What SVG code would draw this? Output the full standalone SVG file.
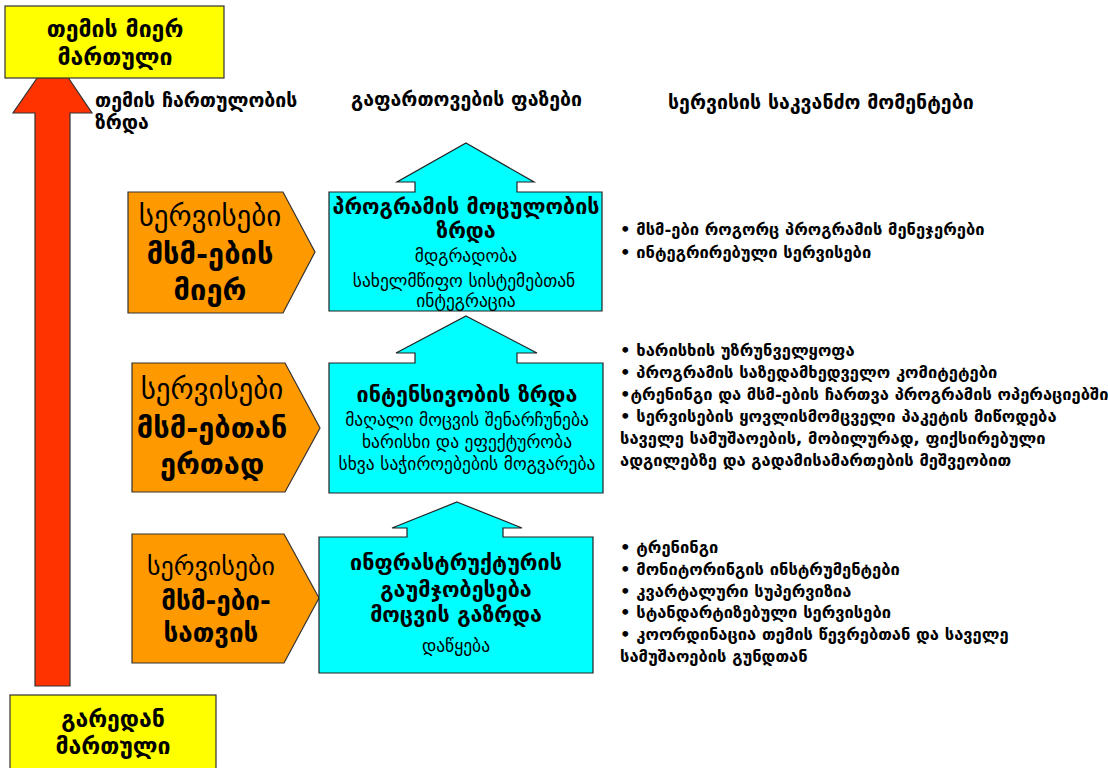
<svg xmlns="http://www.w3.org/2000/svg" width="1108" height="768" viewBox="0 0 1108 768">
  <style>
    text { font-family: "DejaVu Sans", sans-serif; fill: #000; }
    .yellow { fill: #FFFF00; stroke: #333; stroke-width: 1.2; }
    .orange { fill: #FF9900; stroke: #333; stroke-width: 1.2; }
    .cyan { fill: #00FFFF; stroke: #222; stroke-width: 1.2; }
    .red { fill: #FF3300; stroke: #333; stroke-width: 1.2; }
    .hdr { font-size: 19.5px; font-weight: bold; }
    .big { font-size: 29px; text-anchor: middle; }
    .bigb { font-size: 29px; font-weight: bold; text-anchor: middle; }
    .mid { font-size: 26px; text-anchor: middle; }
    .midb { font-size: 26px; font-weight: bold; text-anchor: middle; }
    .ttl { font-size: 21.5px; font-weight: bold; text-anchor: middle; }
    .sub { font-size: 17.5px; text-anchor: middle; }
    .bul { font-size: 16.5px; font-weight: bold; }
    .ybox { font-size: 23px; font-weight: bold; text-anchor: middle; }
  </style>

  <!-- vertical axis arrow -->
  <g id="axis-arrow">
    <polygon class="red" points="53,55 92,113 70,113 70,686 35,686 35,113 13,113"/>
  </g>

  <!-- top and bottom yellow boxes -->
  <g id="top-box">
    <rect class="yellow" x="5" y="6" width="219" height="72"/>
    <text class="ybox" x="115" y="37">თემის მიერ</text>
    <text class="ybox" x="115" y="65">მართული</text>
  </g>
  <g id="bottom-box">
    <rect class="yellow" x="10" y="695" width="206" height="78"/>
    <text class="ybox" x="113" y="727">გარედან</text>
    <text class="ybox" x="113" y="754">მართული</text>
  </g>

  <!-- column headers -->
  <g id="headers">
    <text class="hdr" x="95" y="107">თემის ჩართულობის</text>
    <text class="hdr" x="95" y="129">ზრდა</text>
    <text class="hdr" x="351" y="106">გაფართოვების ფაზები</text>
    <text class="hdr" x="668" y="109">სერვისის საკვანძო მომენტები</text>
  </g>

  <!-- orange service-level markers -->
  <g id="level-3">
    <polygon class="orange" points="128,192 283,192 315,252 283,313 128,313"/>
    <text class="big" x="210" y="226">სერვისები</text>
    <text class="bigb" x="210" y="264">მსმ-ების</text>
    <text class="bigb" x="210" y="300">მიერ</text>
  </g>
  <g id="level-2">
    <polygon class="orange" points="132,363 285,363 320,428 285,492 132,492"/>
    <text class="big" x="212" y="399">სერვისები</text>
    <text class="bigb" x="212" y="438">მსმ-ებთან</text>
    <text class="bigb" x="212" y="474">ერთად</text>
  </g>
  <g id="level-1">
    <polygon class="orange" points="132,534 284,534 319,598 284,663 132,663"/>
    <text class="mid" x="211" y="575">სერვისები</text>
    <text class="midb" x="216" y="610">მსმ-ები-</text>
    <text class="midb" x="211" y="642">სათვის</text>
  </g>

  <!-- cyan expansion phases -->
  <g id="phase-3">
    <polygon class="cyan" points="466,143 534,182 517,182 517,192 602,192 602,311 329,311 329,192 415,192 415,182 397,182"/>
    <text class="ttl" x="466" y="214">პროგრამის მოცულობის</text>
    <text class="ttl" x="466" y="238">ზრდა</text>
    <text class="sub" x="466" y="262">მდგრადობა</text>
    <text class="sub" x="464" y="287">სახელმწიფო სისტემებთან</text>
    <text class="sub" x="466" y="307">ინტეგრაცია</text>
  </g>
  <g id="phase-2">
    <polygon class="cyan" points="466,316 537,353 517,353 517,363 603,363 603,493 329,493 329,363 415,363 415,353 396,353"/>
    <text class="ttl" x="467" y="402">ინტენსივობის ზრდა</text>
    <text class="sub" x="467" y="426">მაღალი მოცვის შენარჩუნება</text>
    <text class="sub" x="467" y="448">ხარისხი და ეფექტურობა</text>
    <text class="sub" x="467" y="470">სხვა საჭიროებების მოგვარება</text>
  </g>
  <g id="phase-1">
    <polygon class="cyan" points="457,502 522,528 503,528 503,537 593,537 593,673 319,673 319,537 407,537 407,528 392,528"/>
    <text class="ttl" x="456" y="570">ინფრასტრუქტურის</text>
    <text class="ttl" x="456" y="597">გაუმჯობესება</text>
    <text class="ttl" x="456" y="622">მოცვის გაზრდა</text>
    <text class="sub" x="456" y="652">დაწყება</text>
  </g>

  <!-- key service points -->
  <g id="points-3">
    <text class="bul" x="620" y="235">• მსმ-ები როგორც პროგრამის მენეჯერები</text>
    <text class="bul" x="620" y="258">• ინტეგრირებული სერვისები</text>
  </g>
  <g id="points-2">
    <text class="bul" x="620" y="356">• ხარისხის უზრუნველყოფა</text>
    <text class="bul" x="620" y="378">• პროგრამის საზედამხედველო კომიტეტები</text>
    <text class="bul" x="620" y="400">•ტრენინგი და მსმ-ების ჩართვა პროგრამის ოპერაციებში</text>
    <text class="bul" x="620" y="422">• სერვისების ყოვლისმომცველი პაკეტის მიწოდება</text>
    <text class="bul" x="620" y="444">საველე სამუშაოების, მობილურად, ფიქსირებული</text>
    <text class="bul" x="620" y="466">ადგილებზე და გადამისამართების მეშვეობით</text>
  </g>
  <g id="points-1">
    <text class="bul" x="620" y="553">• ტრენინგი</text>
    <text class="bul" x="620" y="575">• მონიტორინგის ინსტრუმენტები</text>
    <text class="bul" x="620" y="597">• კვარტალური სუპერვიზია</text>
    <text class="bul" x="620" y="618">• სტანდარტიზებული სერვისები</text>
    <text class="bul" x="620" y="640">• კოორდინაცია თემის წევრებთან და საველე</text>
    <text class="bul" x="620" y="662">სამუშაოების გუნდთან</text>
  </g>
</svg>
